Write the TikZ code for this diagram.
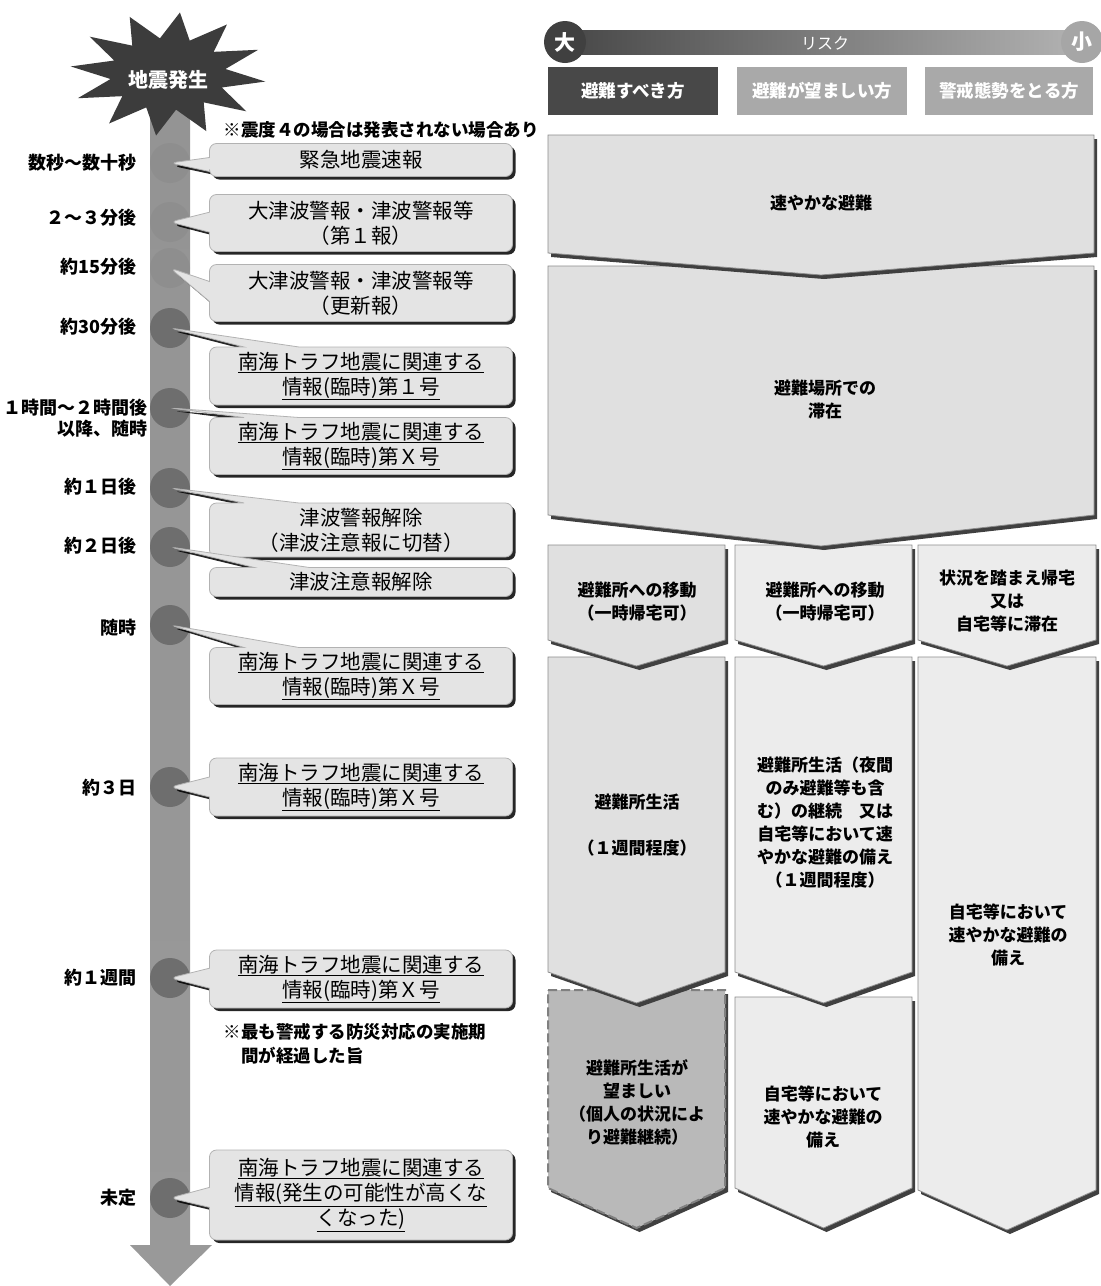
\documentclass[tikz,border=0pt]{standalone}
\usepackage{fontspec}
\setmainfont{Noto Sans CJK JP}
\usepackage{tikz}
\usetikzlibrary{shapes.callouts,shadows,positioning}
\definecolor{boxgray}{HTML}{E4E4E4}
\definecolor{chevgray}{HTML}{E0E0E0}
\definecolor{chevlight}{HTML}{ECECEC}
\definecolor{dashgray}{HTML}{B9B9B9}
\definecolor{headdark}{HTML}{484848}
\definecolor{headlight}{HTML}{A9A9A9}
\definecolor{stardark}{HTML}{3C3C3C}
\definecolor{dotgray}{HTML}{6E6E6E}
\definecolor{dotlight}{HTML}{8E8E8E}

% chevron block: [style] left, right, top, side bottom, tip
\newcommand{\chevron}[6][]{%
  \fill[black!75, shift={(3,4)}] (#2,#4) -- (#3,#4) -- (#3,#5) -- ({(#2+#3)/2},#6) -- (#2,#5) -- cycle;
  \draw[chev, #1] (#2,#4) -- (#3,#4) -- (#3,#5) -- ({(#2+#3)/2},#6) -- (#2,#5) -- cycle;
}
\newcommand{\ulx}[1]{\underline{#1}}

\begin{document}
\begin{tikzpicture}[x=1pt, y=-1pt,
  callbox/.style={rectangle callout, rounded corners=7pt, fill=boxgray,
    draw=black!30, line width=0.8pt, minimum width=303pt, inner ysep=2pt,
    align=center, font=\fontsize{20.5}{25}\selectfont,
    callout pointer width=20pt,
    drop shadow={shadow xshift=3pt, shadow yshift=-3pt, opacity=0.85, fill=black}},
  topcall/.style={callbox, callout pointer width=55pt},
  tdot/.style={circle, minimum size=40pt, inner sep=0pt, fill=dotgray},
  when/.style={anchor=east, font=\bfseries\fontsize{18}{21}\selectfont},
  note/.style={font=\bfseries\fontsize{17.5}{24}\selectfont, align=left},
  hdr/.style={minimum width=170pt, minimum height=48pt, text=white,
    font=\bfseries\fontsize{17.5}{20}\selectfont},
  chev/.style={fill=chevgray, draw=black!45, line width=0.8pt},
  rtext/.style={align=center, font=\bfseries\fontsize{17}{23}\selectfont},
]
  \useasboundingbox (0,0) rectangle (1101,1286);

  % timeline
  \shade[top color=black!42, middle color=black!22, bottom color=black!40]
    (150,110) -- (190,110) -- (190,1245) -- (212,1245) -- (170,1286)
    -- (130,1245) -- (150,1245) -- cycle;

  % quake star
  \begin{scope}[shift={(168,74)}]
    \fill[stardark] (7:98 and 62) \foreach \i in {1,...,23}{
      -- ({7+\i*15}:{98-mod(\i,2)*40} and {62-mod(\i,2)*26}) } -- cycle;
  \end{scope}
  \node[text=white, font=\bfseries\fontsize{20}{22}\selectfont] (quake) at (168,80) {地震発生};

  % timeline dots
  \foreach \n/\y/\c in {t1/163/dotlight, t2/222/dotlight, t3/268/dotlight,
      t4/328/dotgray, t5/408/dotgray, t6/488/dotgray, t7/547/dotgray,
      t8/625/dotgray, t9/787/dotgray, t10/978/dotgray, t11/1198/dotgray}
    \node[tdot, fill=\c] (\n) at (170,\y) {};

  % time labels
  \node[when] (l1) at (140,163) {数秒～数十秒};
  \node[when] (l2) at (140,218) {２～３分後};
  \node[when] (l3) at (140,267) {約15分後};
  \node[when] (l4) at (140,327) {約30分後};
  \node[when, align=right] (l5) at (151,418) {１時間～２時間後\\以降、随時};
  \node[when] (l6) at (140,487) {約１日後};
  \node[when] (l7) at (140,546) {約２日後};
  \node[when] (l8) at (140,628) {随時};
  \node[when] (l9) at (140,788) {約３日};
  \node[when] (l10) at (140,978) {約１週間};
  \node[when] (l11) at (140,1198) {未定};

  % announcements
  \node[callbox, minimum height=33pt, callout pointer width=14pt,
    callout absolute pointer={(t1.center)}] (c1) at (361,160) {緊急地震速報};
  \node[callbox, minimum height=57pt, callout absolute pointer={(t2.center)}]
    (c2) at (361,223) {大津波警報・津波警報等\\（第１報）};
  \node[callbox, minimum height=57pt, callout absolute pointer={(t3.center)}]
    (c3) at (361,293) {大津波警報・津波警報等\\（更新報）};
  \node[topcall, minimum height=58pt, callout absolute pointer={(t4.center)}]
    (c4) at (361,376) {\ulx{南海トラフ地震に関連する}\\\ulx{情報(臨時)第１号}};
  \node[topcall, minimum height=57pt, callout absolute pointer={(t5.center)}]
    (c5) at (361,446) {\ulx{南海トラフ地震に関連する}\\\ulx{情報(臨時)第Ｘ号}};
  \node[topcall, minimum height=54pt, callout absolute pointer={(t6.center)}]
    (c6) at (361,530) {津波警報解除\\（津波注意報に切替）};
  \node[topcall, minimum height=29pt, callout absolute pointer={(t7.center)}]
    (c7) at (361,582) {津波注意報解除};
  \node[topcall, minimum height=57pt, callout absolute pointer={(t8.center)}]
    (c8) at (361,676) {\ulx{南海トラフ地震に関連する}\\\ulx{情報(臨時)第Ｘ号}};
  \node[callbox, minimum height=58pt, callout absolute pointer={(t9.center)}]
    (c9) at (361,787) {\ulx{南海トラフ地震に関連する}\\\ulx{情報(臨時)第Ｘ号}};
  \node[callbox, minimum height=58pt, callout absolute pointer={(t10.center)}]
    (c10) at (361,979) {\ulx{南海トラフ地震に関連する}\\\ulx{情報(臨時)第Ｘ号}};
  \node[callbox, minimum height=90pt, callout absolute pointer={(t11.center)}]
    (c11) at (361,1195) {\ulx{南海トラフ地震に関連する}\\\ulx{情報(発生の可能性が高くな}\\\ulx{くなった)}};

  \node[note, anchor=west] (n1) at (220,130) {※震度４の場合は発表されない場合あり};
  \node[note, anchor=north west] (n2) at (220,1020) {※最も警戒する防災対応の実施期\\\hphantom{※}間が経過した旨};

  % risk bar
  \shade[left color=black!72, right color=black!30] (563,30) rectangle (1082,54);
  \node[circle, fill=black!75, minimum size=42pt, text=white,
    font=\bfseries\fontsize{21}{22}\selectfont] (big) at (565,42) {大};
  \node[circle, fill=black!35, minimum size=42pt, text=white,
    font=\bfseries\fontsize{21}{22}\selectfont] (small) at (1082,42) {小};
  \node[text=white, font=\fontsize{16}{18}\selectfont] (risk) at (825,43) {リスク};

  % target groups
  \node[hdr, fill=headdark] (h1) at (633,91) {避難すべき方};
  \node[hdr, fill=headlight] (h2) at (822,91) {避難が望ましい方};
  \node[hdr, fill=headlight, minimum width=168pt] (h3) at (1009,91) {警戒態勢をとる方};

  % response blocks, lowest first
  \chevron[fill=dashgray, draw=black!50, dash pattern=on 9pt off 4pt, line width=2pt]{548}{725}{990}{1188}{1228}
  \chevron[fill=chevlight]{735}{912}{997}{1188}{1228}
  \chevron{548}{725}{657}{972}{1003}
  \chevron[fill=chevlight]{735}{912}{657}{972}{1003}
  \chevron[fill=chevlight]{918}{1096}{657}{1190}{1230}
  \chevron{548}{725}{545}{640}{666}
  \chevron[fill=chevlight]{735}{912}{545}{640}{666}
  \chevron[fill=chevlight]{918}{1096}{545}{640}{666}
  \chevron{548}{1094}{266}{515}{546}
  \chevron{548}{1094}{135}{253}{275}

  \node[rtext] (r1) at (821,203) {速やかな避難};
  \node[rtext] (r2) at (825,400) {避難場所での\\滞在};
  \node[rtext] (r3a) at (637,602) {避難所への移動\\（一時帰宅可）};
  \node[rtext] (r3b) at (825,602) {避難所への移動\\（一時帰宅可）};
  \node[rtext] (r3c) at (1007,601) {状況を踏まえ帰宅\\又は\\自宅等に滞在};
  \node[rtext] (r4a) at (637,825) {避難所生活\\[23pt]（１週間程度）};
  \node[rtext] (r4b) at (825,823) {避難所生活（夜間\\のみ避難等も含\\む）の継続　又は\\自宅等において速\\やかな避難の備え\\（１週間程度）};
  \node[rtext] (r4c) at (1008,935) {自宅等において\\速やかな避難の\\備え};
  \node[rtext] (r5a) at (637,1102) {避難所生活が\\望ましい\\（個人の状況によ\\り避難継続）};
  \node[rtext] (r5b) at (823,1117) {自宅等において\\速やかな避難の\\備え};
\end{tikzpicture}
\end{document}
